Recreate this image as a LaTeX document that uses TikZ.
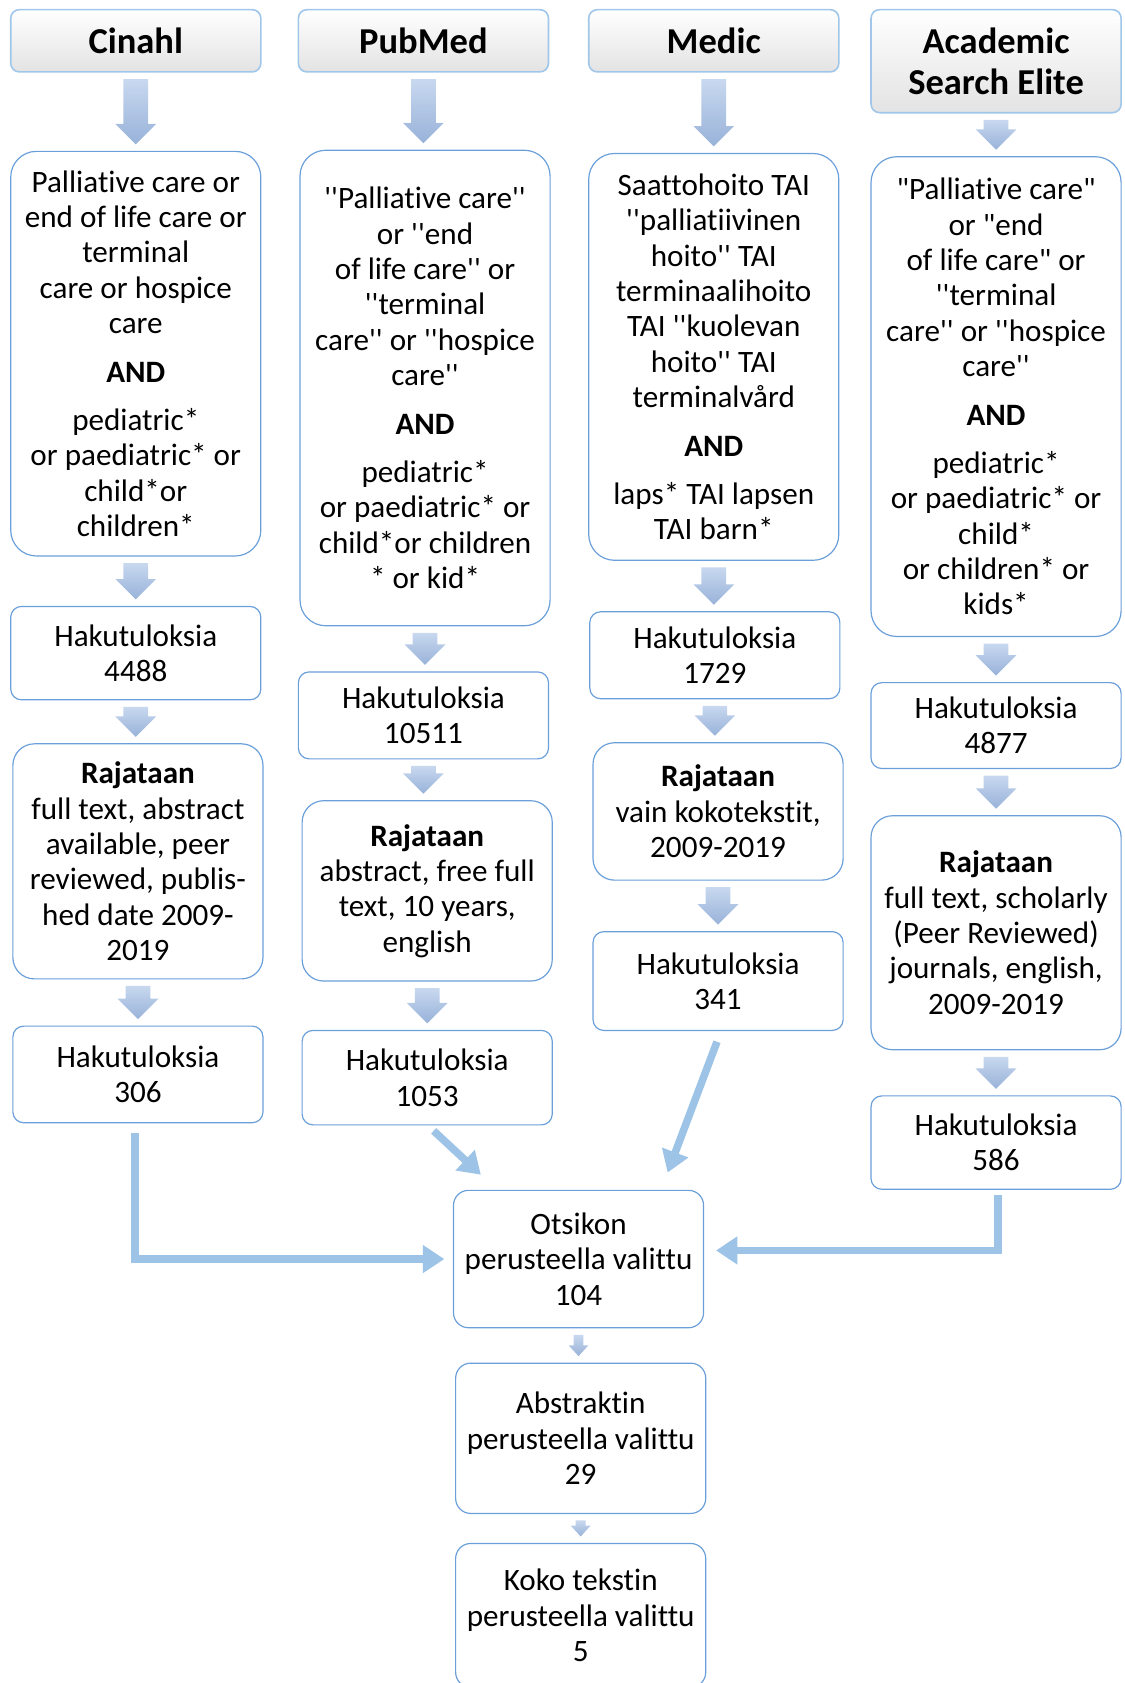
\documentclass[tikz,border=0pt]{standalone}
\usepackage{fontspec}
\setmainfont{Carlito}[Ligatures={TeXOff,CommonOff}]
\usepackage{tikz}
\usetikzlibrary{calc,arrows.meta}

\definecolor{boxline}{RGB}{106,159,218}
\definecolor{headline}{RGB}{160,198,233}
\definecolor{linkblue}{RGB}{157,195,230}
\definecolor{arrowtop}{RGB}{200,216,239}
\definecolor{arrowbot}{RGB}{152,178,217}

% shaded down arrow between two boxes: from, to, half shaft, half head, head length
\newcommand{\fatarrow}[5]{%
  \shade[top color=arrowtop, bottom color=arrowbot]
    let \p1=($(#1.south)+(0,-6)$), \p2=($(#2.north)+(0,6)$) in
    (\x1-#3,\y1) -- (\x1+#3,\y1) -- (\x1+#3,\y2+#5) -- (\x1+#4,\y2+#5)
    -- (\x1,\y2) -- (\x1-#4,\y2+#5) -- (\x1-#3,\y2+#5) -- cycle;}
\newcommand{\flowarrow}[2]{\fatarrow{#1}{#2}{11.5pt}{19pt}{19pt}}
\newcommand{\thinarrow}[2]{\fatarrow{#1}{#2}{4.6pt}{9.2pt}{10pt}}

\begin{document}
\begin{tikzpicture}[x=1pt, y=1pt,
    base/.style={rectangle, draw=boxline, line width=1.1pt, fill=white, minimum width=233pt,
                 inner sep=0pt, align=center, font=\fontsize{29}{33}\selectfont},
    dbhead/.style={base, draw=headline, line width=1.5pt, rounded corners=8pt,
                   top color=white, bottom color=black!11, font=\fontsize{34}{38}\selectfont\bfseries},
    querybox/.style={base, rounded corners=24pt},
    limitbox/.style={base, rounded corners=20pt},
    resultbox/.style={base, rounded corners=10pt},
    selectbox/.style={base, rounded corners=14pt},
    link/.style={draw=linkblue, line width=7pt, -{Triangle[length=20pt,width=25pt]}}
]
    \useasboundingbox (0,0) rectangle (1048,-1568);

    % Cinahl
    \node[dbhead, minimum height=58pt] (hdr1) at (126.5,-38) {Cinahl};
    \node[querybox, minimum height=377pt] (q1) at (126.5,-329.5) {Palliative care or\\end of life care or\\terminal\\care or hospice\\care\\[12pt]\textbf{AND}\\[12pt]pediatric*\\or paediatric* or\\child*or\\children*};
    \node[resultbox, minimum height=87pt] (hit1) at (126.5,-608.5) {Hakutuloksia\\4488};
    \node[limitbox, minimum height=219pt] (lim1) at (128.5,-802.5) {\textbf{Rajataan}\\full text, abstract\\available, peer\\reviewed, publis-\\hed date 2009-\\2019};
    \node[resultbox, minimum height=90pt] (res1) at (128.5,-1001) {Hakutuloksia\\306};

    % PubMed
    \node[dbhead, minimum height=58pt] (hdr2) at (394.5,-38) {PubMed};
    \node[querybox, minimum height=443pt] (q2) at (396,-361.5) {''Palliative care''\\or ''end\\of life care'' or\\''terminal\\care'' or ''hospice\\care''\\[12pt]\textbf{AND}\\[12pt]pediatric*\\or paediatric* or\\child*or children\\* or kid*};
    \node[resultbox, minimum height=81pt] (hit2) at (394.5,-666.5) {Hakutuloksia\\10511};
    \node[limitbox, minimum height=168pt] (lim2) at (398,-830) {\textbf{Rajataan}\\abstract, free full\\text, 10 years,\\english};
    \node[resultbox, minimum height=88pt] (res2) at (398,-1004) {Hakutuloksia\\1053};

    % Medic
    \node[dbhead, minimum height=58pt] (hdr3) at (665,-38) {Medic};
    \node[querybox, minimum height=379pt] (q3) at (665,-332.5) {Saattohoito TAI\\''palliatiivinen\\hoito'' TAI\\terminaalihoito\\TAI ''kuolevan\\hoito'' TAI\\terminalvård\\[12pt]\textbf{AND}\\[12pt]laps* TAI lapsen\\TAI barn*};
    \node[resultbox, minimum height=81pt] (hit3) at (666,-610.5) {Hakutuloksia\\1729};
    \node[limitbox, minimum height=128pt] (lim3) at (669,-756) {\textbf{Rajataan}\\vain kokotekstit,\\2009-2019};
    \node[resultbox, minimum height=92pt] (res3) at (669,-914) {Hakutuloksia\\341};

    % Academic Search Elite
    \node[dbhead, minimum height=96pt] (hdr4) at (928,-57) {Academic\\Search Elite};
    \node[querybox, minimum height=447pt] (q4) at (928,-369.5) {"Palliative care"\\or "end\\of life care" or\\''terminal\\care'' or ''hospice\\care''\\[12pt]\textbf{AND}\\[12pt]pediatric*\\or paediatric* or\\child*\\or children* or\\kids*};
    \node[resultbox, minimum height=80pt] (hit4) at (928,-676) {Hakutuloksia\\4877};
    \node[limitbox, minimum height=218pt] (lim4) at (928,-869) {\textbf{Rajataan}\\full text, scholarly\\(Peer Reviewed)\\journals, english,\\2009-2019};
    \node[resultbox, minimum height=87pt] (res4) at (928,-1064.5) {Hakutuloksia\\586};

    % Selection
    \node[selectbox, minimum height=128pt] (sel1) at (539,-1173) {Otsikon\\perusteella valittu\\104};
    \node[selectbox, minimum height=140pt] (sel2) at (541,-1340) {Abstraktin\\perusteella valittu\\29};
    \node[selectbox, minimum height=134pt] (sel3) at (541,-1505) {Koko tekstin\\perusteella valittu\\5};

    % Block arrows
    \flowarrow{hdr1}{q1} \flowarrow{q1}{hit1} \flowarrow{hit1}{lim1} \flowarrow{lim1}{res1}
    \flowarrow{hdr2}{q2} \flowarrow{q2}{hit2} \flowarrow{hit2}{lim2} \flowarrow{lim2}{res2}
    \flowarrow{hdr3}{q3} \flowarrow{q3}{hit3} \flowarrow{hit3}{lim3} \flowarrow{lim3}{res3}
    \flowarrow{hdr4}{q4} \flowarrow{q4}{hit4} \flowarrow{hit4}{lim4} \flowarrow{lim4}{res4}
    \thinarrow{sel1}{sel2} \thinarrow{sel2}{sel3}

    % Links to selection
    \draw[link] ([xshift=-2.5pt,yshift=-9pt]res1.south) |- ([xshift=-8pt]sel1.west);
    \draw[link] ([xshift=6pt,yshift=-5pt]res2.south) -- ($(sel1.north)+(-91,14)$);
    \draw[link] ([xshift=-1pt,yshift=-10pt]res3.south) -- ($(sel1.north)+(83,16)$);
    \draw[link] ([xshift=2pt,yshift=-5pt]res4.south) |- ([xshift=11pt,yshift=8pt]sel1.east);
\end{tikzpicture}
\end{document}
